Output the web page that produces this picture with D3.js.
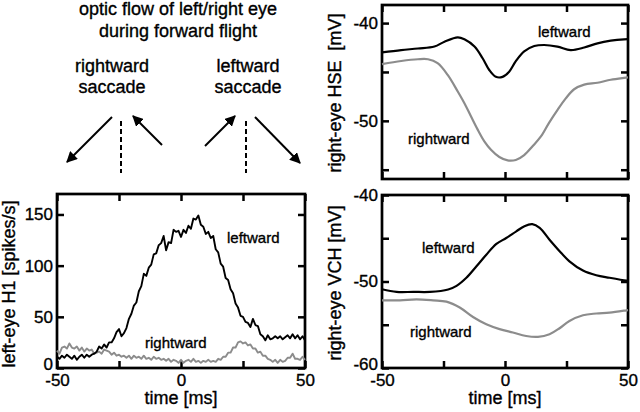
<!DOCTYPE html>
<html>
<head>
<meta charset="utf-8">
<script src="https://cdn.jsdelivr.net/npm/d3@7"></script>
<style>
  body { margin: 0; background: #fff; }
  svg { display: block; font-family: "Liberation Sans", Arial, Helvetica, sans-serif; }
  svg text { fill: #000; stroke: #000; stroke-width: 0.35px; }
</style>
</head>
<body>
<svg id="chart" width="640" height="412"></svg>
<script>
// ---- data ----
const h1Time = d3.range(-50, 51);
const h1Leftward = [
  11, 9, 12, 10, 13, 11, 9, 12, 8, 11,
  13, 10, 13, 11, 13, 14, 16, 21, 19, 23,
  20, 25, 25, 29, 35, 38, 31, 34, 39, 48,
  53, 61, 64, 75, 80, 92, 90, 98, 101, 111,
  112, 120, 122, 129, 115, 123, 122, 135, 133, 134,
  128, 135, 132, 139, 136, 146, 145, 149, 140, 138,
  131, 133, 127, 129, 116, 113, 102, 99, 88, 86,
  77, 73, 63, 59, 51, 50, 45, 44, 40, 48,
  42, 41, 33, 31, 27, 32, 28, 29, 31, 29,
  31, 28, 30, 32, 29, 33, 29, 32, 28, 31, 27
];
const h1Rightward = [
  17, 14, 20, 21, 19, 24, 20, 19, 21, 17,
  20, 16, 19, 17, 18, 14, 15, 16, 14, 18,
  17, 16, 13, 15, 12, 13, 11, 12, 10, 12,
  9, 12, 10, 11, 9, 12, 9, 10, 8, 11,
  9, 10, 8, 9, 7, 9, 6, 8, 7, 5,
  8, 5, 7, 8, 6, 9, 6, 7, 5, 7,
  6, 8, 6, 7, 6, 9, 8, 11, 11, 15,
  15, 20, 20, 25, 26, 24, 25, 22, 23, 19,
  19, 15, 16, 12, 12, 9, 8, 6, 8, 5,
  8, 6, 7, 10, 10, 14, 9, 9, 8, 11, 8
];

const hseLeftTime = [-50, -42.2, -35.4, -28.7, -24.6, -19.2, -16.5, -12.4, -9.1, -6.4, -3.7, -1, 1.7, 4.4, 7.8, 11.9, 15.9, 21.3, 26.7, 32.2, 37.6, 43, 48.4, 50];
const hseLeftward = [-43.0, -42.76, -42.6, -42.4, -41.9, -41.46, -41.66, -42.4, -43.6, -44.8, -45.5, -45.5, -44.97, -43.9, -42.9, -42.35, -42.24, -42.4, -42.76, -42.5, -42.07, -41.8, -41.66, -41.65];
const hseRightTime = [-50, -42.2, -35.4, -31.3, -27.4, -23.3, -19.2, -16.5, -13.8, -11.1, -8.4, -5.7, -2.3, 1.1, 4.4, 7.8, 11.2, 14.6, 17.9, 21.3, 24.7, 28.1, 32.2, 37.6, 43, 48.4, 50];
const hseRightward = [-44.2, -43.88, -43.7, -43.7, -44.1, -45.3, -47.0, -48.2, -49.56, -50.9, -52.1, -52.96, -53.7, -54.05, -54.0, -53.5, -52.6, -51.6, -50.2, -48.9, -47.7, -46.77, -46.3, -46.1, -45.8, -45.6, -45.55];

const vchLeftTime = [-50, -44.1, -37.3, -30.5, -23.1, -19.7, -15.7, -11.6, -7.6, -3.5, 0.5, 4.6, 7.9, 11.1, 14.1, 18.1, 22.2, 26.2, 31.7, 37.1, 42.5, 49.3, 50];
const vchLeftward = [-50.9, -51.2, -51.2, -51.2, -50.92, -50.5, -49.57, -48.24, -46.9, -45.66, -44.97, -44.2, -43.6, -43.37, -43.8, -45.17, -46.5, -47.67, -48.74, -49.28, -49.57, -49.9, -49.92];
const vchRightTime = [-50, -42.7, -36, -29.2, -23.8, -18.4, -13, -7.6, -2.2, 3.2, 8.6, 13.4, 18.1, 22.2, 26.2, 31.7, 37.1, 42.5, 49.3, 50];
const vchRightward = [-52.18, -52.18, -52.07, -52.18, -52.33, -53.0, -54.1, -54.94, -55.5, -55.9, -56.3, -56.4, -56.1, -55.4, -54.56, -53.9, -53.7, -53.6, -53.33, -53.3];

const xTicks = [-50, -25, 0, 25, 50];
const xTickLabels = [-50, 0, 50];
const h1YTicks = [0, 50, 100, 150];
const hseYTicks = [-40, -45, -50, -55];
const hseYLabels = [-40, -50];
const vchYTicks = [-40, -45, -50, -55, -60];
const vchYLabels = [-40, -50, -60];

const grey = "#8c8c8c";
const svg = d3.select("#chart");

function panel(cfg) {
  const x = d3.scaleLinear().domain([-50, 50]).range([cfg.left, cfg.right]);
  const y = d3.scaleLinear().domain(cfg.yDomain).range([cfg.bottom, cfg.top]);
  const g = svg.append("g");

  const fmtX = (d) => (cfg.xLabels && xTickLabels.includes(d)) ? d : "";
  const fmtY = (d) => cfg.yLabels.includes(d) ? d : "";

  const axes = [
    [d3.axisBottom(x).tickValues(xTicks).tickFormat(fmtX).tickSize(-7).tickPadding(6), `translate(0,${cfg.bottom})`],
    [d3.axisTop(x).tickValues(xTicks).tickFormat("").tickSize(-7), `translate(0,${cfg.top})`],
    [d3.axisLeft(y).tickValues(cfg.yTicks).tickFormat(fmtY).tickSize(-7).tickPadding(4), `translate(${cfg.left},0)`],
    [d3.axisRight(y).tickValues(cfg.yTicks).tickFormat("").tickSize(-7), `translate(${cfg.right},0)`]
  ];
  axes.forEach(([ax, tr], i) => {
    const a = g.append("g").attr("transform", tr).call(ax);
    a.select(".domain").remove();
    a.selectAll("line").attr("stroke", "#000").attr("stroke-width", 2.5);
    a.selectAll("text").style("font-size", "17px").style("font-family", "inherit");
    // the lowest y label sits a little above its tick, as in the figure
    if (i === 2) {
      a.selectAll("text").filter((d) => d === cfg.yDomain[0]).attr("dy", "0.1em");
    }
  });

  g.append("rect")
    .attr("x", cfg.left).attr("y", cfg.top)
    .attr("width", cfg.right - cfg.left).attr("height", cfg.bottom - cfg.top)
    .attr("fill", "none").attr("stroke", "#000").attr("stroke-width", 2.7);

  const line = d3.line()
    .x((d) => x(d[0]))
    .y((d) => y(d[1]))
    .curve(cfg.curve || d3.curveLinear);

  cfg.series.forEach((s) => {
    g.append("path")
      .datum(d3.zip(s.t, s.v))
      .attr("fill", "none")
      .attr("stroke", s.color)
      .attr("stroke-width", s.width || 2.2)
      .attr("stroke-linejoin", "round")
      .attr("d", line);
  });

  cfg.labels.forEach((l) => {
    g.append("text")
      .attr("x", l.x).attr("y", l.y)
      .style("font-size", "15px")
      .text(l.text);
  });

  const cy = (cfg.top + cfg.bottom) / 2;
  g.append("text")
    .attr("transform", `translate(${cfg.yTitleX},${cfg.yTitleY || cy}) rotate(-90)`)
    .attr("text-anchor", "middle")
    .style("font-size", "18px")
    .style("white-space", "pre")
    .text(cfg.yTitle);

  if (cfg.xLabels) {
    g.append("text")
      .attr("x", (cfg.left + cfg.right) / 2).attr("y", 404)
      .attr("text-anchor", "middle")
      .style("font-size", "18px")
      .text("time [ms]");
  }
}

panel({
  left: 57, right: 305, top: 194, bottom: 368,
  yDomain: [0, 170], yTicks: h1YTicks, yLabels: h1YTicks, xLabels: true,
  series: [
    { t: h1Time, v: h1Rightward, color: grey, width: 1.9 },
    { t: h1Time, v: h1Leftward, color: "#000", width: 1.9 }
  ],
  labels: [
    { x: 227, y: 243, text: "leftward" },
    { x: 145, y: 348, text: "rightward" }
  ],
  yTitle: "left-eye H1 [spikes/s]", yTitleX: 15, yTitleY: 284
});

panel({
  left: 382, right: 628, top: 5, bottom: 179,
  yDomain: [-55.95, -38.15], yTicks: hseYTicks, yLabels: hseYLabels, xLabels: false,
  curve: d3.curveCatmullRom,
  series: [
    { t: hseRightTime, v: hseRightward, color: grey },
    { t: hseLeftTime, v: hseLeftward, color: "#000" }
  ],
  labels: [
    { x: 538, y: 37, text: "leftward" },
    { x: 408, y: 144, text: "rightward" }
  ],
  yTitle: "right-eye HSE  [mV]", yTitleX: 341, yTitleY: 93
});

panel({
  left: 382, right: 628, top: 195, bottom: 368,
  yDomain: [-60, -40], yTicks: vchYTicks, yLabels: vchYLabels, xLabels: true,
  curve: d3.curveCatmullRom,
  series: [
    { t: vchRightTime, v: vchRightward, color: grey },
    { t: vchLeftTime, v: vchLeftward, color: "#000" }
  ],
  labels: [
    { x: 422, y: 253, text: "leftward" },
    { x: 410, y: 337, text: "rightward" }
  ],
  yTitle: "right-eye VCH [mV]", yTitleX: 341, yTitleY: 283
});

// ---- schematic: optic flow during saccades ----
const header = ["optic flow of left/right eye", "during forward flight"];
const saccades = [
  { name: ["rightward", "saccade"], cx: 112, dashX: 121 },
  { name: ["leftward", "saccade"], cx: 248, dashX: 246 }
];
const arrows = [
  [112, 117, 67, 162], [162, 145, 133, 116],
  [205, 146, 235, 116], [255, 117, 300, 163]
];

svg.append("defs").append("marker")
  .attr("id", "head").attr("viewBox", "0 0 10 10")
  .attr("refX", 9).attr("refY", 5)
  .attr("markerWidth", 5.5).attr("markerHeight", 5.5)
  .attr("markerUnits", "strokeWidth")
  .attr("orient", "auto")
  .append("path").attr("d", "M0,0 L10,5 L0,10 z").attr("fill", "#000");

svg.selectAll(".hdr").data(header).enter().append("text")
  .attr("x", 178).attr("y", (d, i) => 15 + i * 22)
  .attr("text-anchor", "middle").style("font-size", "18px").text((d) => d);

saccades.forEach((s) => {
  svg.selectAll(null).data(s.name).enter().append("text")
    .attr("x", s.cx).attr("y", (d, i) => 72 + i * 21)
    .attr("text-anchor", "middle").style("font-size", "18px").text((d) => d);
  svg.append("line")
    .attr("x1", s.dashX).attr("x2", s.dashX).attr("y1", 121).attr("y2", 173)
    .attr("stroke", "#000").attr("stroke-width", 2).attr("stroke-dasharray", "5,3");
});

svg.selectAll(".arrow").data(arrows).enter().append("line")
  .attr("x1", (d) => d[0]).attr("y1", (d) => d[1])
  .attr("x2", (d) => d[2]).attr("y2", (d) => d[3])
  .attr("stroke", "#000").attr("stroke-width", 2)
  .attr("marker-end", "url(#head)");
</script>
</body>
</html>
